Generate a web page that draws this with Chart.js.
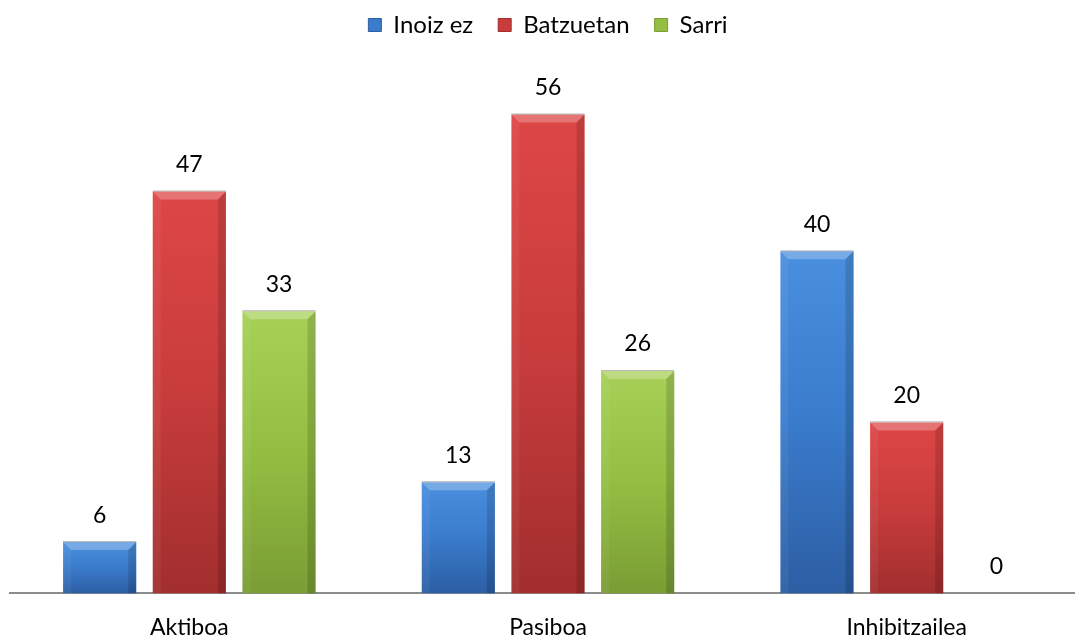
<!DOCTYPE html>
<html>
<head>
<meta charset="utf-8">
<script src="https://cdn.jsdelivr.net/npm/chart.js@4.4.0/dist/chart.umd.min.js"></script>
<style>
  html, body { margin: 0; padding: 0; background: #fff; overflow: hidden; }
  #wrap { width: 1100px; height: 639px; position: relative; }
</style>
</head>
<body>
<div id="wrap"><canvas id="grafikoa"></canvas></div>
<script>
// datuak
const kategoriak = ['Aktiboa', 'Pasiboa', 'Inhibitzailea'];
const seriek = ['Inoiz ez', 'Batzuetan', 'Sarri'];
const inoizEz = [6, 13, 40];
const batzuetan = [47, 56, 20];
const sarri = [33, 26, 0];

// koloreak: goikoa, erdikoa, behekoa
const koloreak = [
    ['#4a8fdf', '#3a7bcc', '#2c5ea3'],
    ['#de4646', '#c83c3c', '#a22e2e'],
    ['#a8d058', '#93be42', '#7a9d34']
];

const letra = "Lato, 'Open Sans', sans-serif";

function gradientea(ctx, i) {
    const chart = ctx.chart;
    const area = chart.chartArea;
    if (!area) return koloreak[i][1];
    const balioa = ctx.raw || 0;
    const y0 = chart.scales.y.getPixelForValue(balioa);
    const y1 = chart.scales.y.getPixelForValue(0);
    if (y1 - y0 < 1) return koloreak[i][1];
    const g = chart.ctx.createLinearGradient(0, y0, 0, y1);
    g.addColorStop(0, koloreak[i][0]);
    g.addColorStop(0.5, koloreak[i][1]);
    g.addColorStop(1, koloreak[i][2]);
    return g;
}

// barren ertz biribilduak (bevel) eta balioak
const apaingarriak = {
    id: 'apaingarriak',
    afterDatasetsDraw(chart) {
        const c = chart.ctx;
        chart.data.datasets.forEach((ds, di) => {
            const meta = chart.getDatasetMeta(di);
            meta.data.forEach((el, i) => {
                const w = el.width;
                const x0 = el.x - w / 2, x1 = el.x + w / 2;
                const top = el.y, bot = el.base;
                const h = bot - top;
                if (h > 2) {
                    const b = Math.min(8, h / 2);
                    c.save();
                    // goiko ertza
                    c.beginPath();
                    c.moveTo(x0, top); c.lineTo(x1, top);
                    c.lineTo(x1 - b, top + b); c.lineTo(x0 + b, top + b);
                    c.closePath();
                    c.fillStyle = 'rgba(255,255,255,0.25)';
                    c.fill();
                    // ezkerreko ertza
                    c.beginPath();
                    c.moveTo(x0, top); c.lineTo(x0 + b, top + b);
                    c.lineTo(x0 + b, bot); c.lineTo(x0, bot);
                    c.closePath();
                    c.fillStyle = 'rgba(255,255,255,0.05)';
                    c.fill();
                    // eskuineko ertza
                    c.beginPath();
                    c.moveTo(x1, top); c.lineTo(x1 - b, top + b);
                    c.lineTo(x1 - b, bot); c.lineTo(x1, bot);
                    c.closePath();
                    c.fillStyle = 'rgba(0,0,0,0.14)';
                    c.fill();
                    // goiko marra grisa
                    c.fillStyle = 'rgba(150,150,150,0.7)';
                    c.fillRect(x0, top - 1, w, 1);
                    c.restore();
                }
                c.save();
                c.fillStyle = '#000';
                c.font = '23px ' + letra;
                c.textAlign = 'center';
                c.textBaseline = 'middle';
                c.fillText(String(ds.data[i]), el.x, top - 27);
                c.restore();
            });
        });
    }
};

const ctx = document.getElementById('grafikoa').getContext('2d');
const grafikoa = new Chart(ctx, {
    type: 'bar',
    data: {
        labels: kategoriak,
        datasets: [
            { label: seriek[0], data: inoizEz, backgroundColor: c => gradientea(c, 0) },
            { label: seriek[1], data: batzuetan, backgroundColor: c => gradientea(c, 1) },
            { label: seriek[2], data: sarri, backgroundColor: c => gradientea(c, 2) }
        ]
    },
    options: {
        responsive: true,
        maintainAspectRatio: false,
        animation: false,
        layout: { padding: { left: 10, right: 14, top: -12, bottom: -22 } },
        datasets: {
            bar: { categoryPercentage: 0.75, barPercentage: 0.816 }
        },
        scales: {
            x: {
                grid: { display: false, drawTicks: false },
                border: { display: true, color: '#8c8c8c', width: 2 },
                ticks: { color: '#000', font: { family: letra, size: 23 }, padding: 20 }
            },
            y: {
                display: false,
                min: 0,
                max: 63.9
            }
        },
        plugins: {
            legend: {
                position: 'top',
                labels: {
                    color: '#000',
                    font: { family: letra, size: 24 },
                    boxWidth: 13,
                    boxHeight: 13,
                    padding: 25,
                    generateLabels(chart) {
                        return chart.data.datasets.map((ds, i) => ({
                            text: ds.label,
                            fillStyle: koloreak[i][1],
                            strokeStyle: koloreak[i][2],
                            lineWidth: 1,
                            hidden: false,
                            datasetIndex: i,
                            fontColor: '#000'
                        }));
                    }
                }
            },
            tooltip: { enabled: false }
        }
    },
    plugins: [apaingarriak]
});
</script>
</body>
</html>
